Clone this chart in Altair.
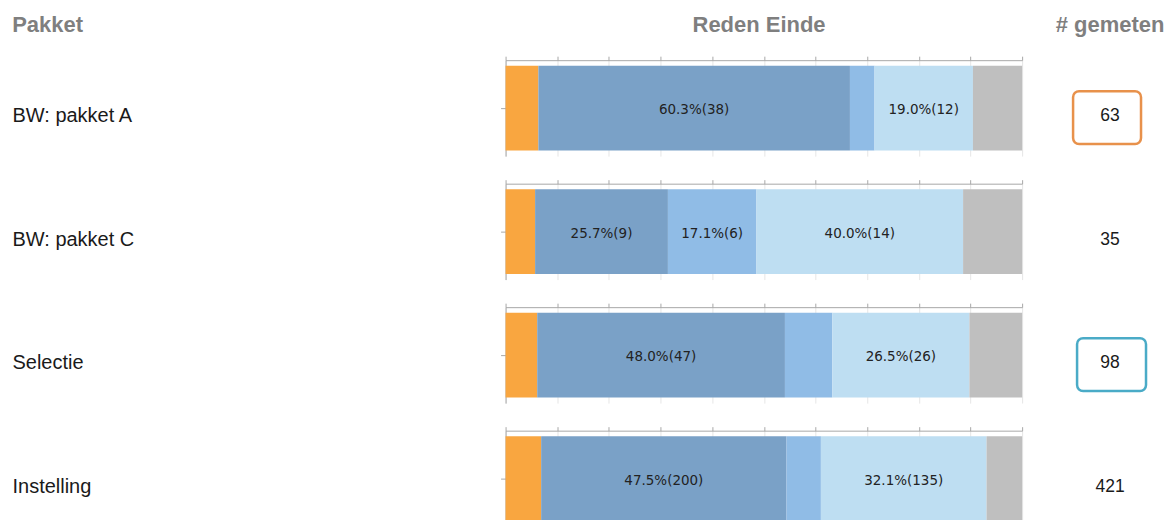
import altair as alt
import pandas as pd

# ---- data ----
pakketten = ["BW: pakket A", "BW: pakket C", "Selectie", "Instelling"]
redenen = ["Reden 1", "Reden 2", "Reden 3", "Reden 4", "Reden 5"]
aantal_a = [4, 38, 3, 12, 6]
aantal_c = [2, 9, 6, 14, 4]
aantal_sel = [6, 47, 9, 26, 10]
aantal_inst = [29, 200, 28, 135, 29]
aantallen = [aantal_a, aantal_c, aantal_sel, aantal_inst]
koppen = ["Pakket", "Reden Einde", "# gemeten"]
gemarkeerd = ["BW: pakket A", "Selectie"]

# ---- styles ----
kleuren = ["#F9A640", "#7AA1C7", "#90BCE6", "#BEDEF2", "#BFBFBF"]
box_kleur = {"BW: pakket A": "#E8914B", "Selectie": "#4AABC7"}
box_x = {"BW: pakket A": (568, 636), "Selectie": (572, 641)}
AX = "#a8a8a8"
KOP_KLEUR = "#7f7f7f"
W, H = 517, 96

rows = []
for p, ns in zip(pakketten, aantallen):
    tot = sum(ns)
    for i, (r, n) in enumerate(zip(redenen, ns)):
        pct = n / tot * 100
        rows.append(dict(Pakket=p, Reden=r, volgorde=i, n=n, totaal=tot,
                         pct=pct, label=f"{pct:.1f}%({n})"))
df = pd.DataFrame(rows)

xs = alt.Scale(domain=[0, 100], nice=False, zero=True)
ys = alt.Scale(paddingOuter=0.065, paddingInner=0)
xaxis = alt.Axis(orient="top", values=list(range(0, 101, 10)), labels=False,
                 title=None, tickSize=4, grid=True, gridColor="#e6e6e6",
                 domainColor=AX, tickColor=AX)
yaxis = alt.Axis(title=None, labelAlign="left", labelBaseline="middle",
                 labelPadding=489, labelOffset=8, labelFont="Liberation Sans",
                 labelFontSize=20, labelColor="#1a1a1a", labelLimit=0,
                 tickSize=5, tickColor=AX, domainColor=AX)


def rij(p, first):
    d = df[df.Pakket == p]
    base = alt.Chart(d).transform_stack(
        stack="pct", as_=["x0", "x1"], groupby=["Pakket"],
        sort=[alt.SortField("volgorde")]
    ).transform_calculate(xm="(datum.x0 + datum.x1) / 2")
    yenc = alt.Y("Pakket:N", scale=ys, axis=yaxis)
    bars = base.mark_bar().encode(
        x=alt.X("x0:Q", scale=xs, axis=xaxis),
        x2="x1:Q",
        y=yenc,
        color=alt.Color("Reden:N", scale=alt.Scale(domain=redenen, range=kleuren), legend=None),
    )
    labels = base.transform_filter("datum.pct >= 15").mark_text(
        font="DejaVu Sans", fontSize=13.5, color="#222222", dy=2
    ).encode(
        x=alt.X("xm:Q", scale=xs, axis=xaxis),
        y=yenc,
        text="label:N",
    )
    tot = alt.Chart(d.head(1)).mark_text(
        font="Liberation Sans", fontSize=17.5, color="#1a1a1a", dy=8
    ).encode(x=alt.value(605), y=yenc, text="totaal:Q")
    layers = [bars, labels, tot]
    if p in gemarkeerd:
        x1, x2 = box_x[p]
        box = alt.Chart(d.head(1)).mark_rect(
            filled=False, stroke=box_kleur[p], strokeWidth=2.5, cornerRadius=6
        ).encode(x=alt.value(x1), x2=alt.value(x2), y=alt.value(31), y2=alt.value(84))
        layers.append(box)
    if first:
        kop_x = [-493.8, 253.7, 605]
        kop_align = ["left", "center", "center"]
        for k, kx, ka in zip(koppen, kop_x, kop_align):
            layers.append(
                alt.Chart(pd.DataFrame({"kop": [k]})).mark_text(
                    font="Liberation Sans", fontSize=22, fontWeight="bold",
                    color=KOP_KLEUR, align=ka, baseline="alphabetic"
                ).encode(x=alt.value(kx), y=alt.value(-28), text="kop:N")
            )
    return alt.layer(*layers).properties(width=W, height=H)


chart = alt.vconcat(*[rij(p, i == 0) for i, p in enumerate(pakketten)], spacing=22.6).properties(
    padding={"left": 4, "top": 6, "right": 0, "bottom": 0}
).configure_view(stroke=None)

chart.save("out.html", embed_options={"renderer": "svg", "actions": False})
